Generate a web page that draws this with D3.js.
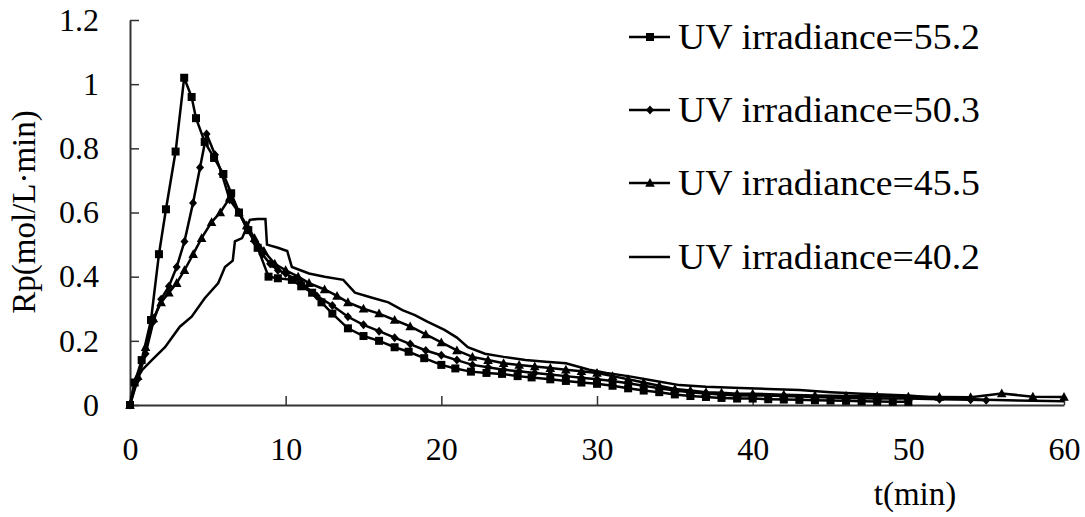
<!DOCTYPE html>
<html>
<head>
<meta charset="utf-8">
<script src="https://cdn.jsdelivr.net/npm/d3@7"></script>
<style>
  html, body { margin: 0; padding: 0; background: #fff; }
  svg { display: block; }
  text { font-family: "Liberation Serif", "Times New Roman", serif; fill: #000; }
</style>
</head>
<body>
<svg id="chart" width="1085" height="517"></svg>
<script>
// ---- Data ----
const seriesNames = ["UV irradiance=55.2", "UV irradiance=50.3", "UV irradiance=45.5", "UV irradiance=40.2"];
const seriesMarkers = ["square", "diamond", "triangle", "none"];

const t552 = [0, 0.3, 0.75, 1.35, 1.86, 2.31, 2.93, 3.48, 3.96, 4.24, 4.8, 5.4, 6.0, 6.5, 7.0, 7.6, 8.2, 8.9, 9.5, 10.4, 11.0, 11.7, 12.3, 13.0, 14.0, 15.0, 16.0, 17.0, 17.9, 18.9, 20.0, 20.9, 21.9, 22.9, 23.9, 24.9, 25.8, 27, 28, 29, 30, 31, 32, 33, 34, 35, 36, 37, 38, 39, 40, 41, 42, 43, 44, 45, 46, 47, 48, 49, 50];
const v552 = [0, 0.07, 0.14, 0.265, 0.47, 0.61, 0.79, 1.02, 0.96, 0.894, 0.82, 0.77, 0.72, 0.66, 0.6, 0.545, 0.49, 0.4, 0.395, 0.39, 0.37, 0.35, 0.32, 0.285, 0.239, 0.215, 0.2, 0.18, 0.166, 0.146, 0.125, 0.114, 0.104, 0.1, 0.097, 0.09, 0.086, 0.08, 0.075, 0.07, 0.066, 0.06, 0.052, 0.045, 0.04, 0.033, 0.028, 0.025, 0.022, 0.02, 0.02, 0.018, 0.017, 0.016, 0.015, 0.014, 0.013, 0.012, 0.011, 0.01, 0.01];

const t503 = [0, 0.5, 1.0, 1.5, 2.0, 2.5, 3.0, 3.5, 4.05, 4.5, 4.92, 5.46, 5.9, 6.4, 7.0, 7.5, 8.0, 8.5, 9.0, 9.5, 10, 11, 12, 13, 14, 15, 16, 17, 18, 19, 20, 21, 22, 23, 24, 25, 26, 27, 28, 29, 30, 31, 32, 33, 34, 35, 36, 37, 38, 39, 40, 42, 44, 46, 48, 50, 52, 54, 55];
const v503 = [0, 0.08, 0.16, 0.26, 0.33, 0.37, 0.43, 0.51, 0.63, 0.74, 0.845, 0.78, 0.72, 0.64, 0.6, 0.55, 0.51, 0.47, 0.44, 0.42, 0.41, 0.38, 0.34, 0.31, 0.275, 0.25, 0.23, 0.21, 0.19, 0.17, 0.155, 0.14, 0.125, 0.118, 0.11, 0.105, 0.1, 0.095, 0.09, 0.085, 0.08, 0.075, 0.068, 0.06, 0.052, 0.045, 0.04, 0.036, 0.033, 0.03, 0.03, 0.028, 0.025, 0.022, 0.02, 0.02, 0.018, 0.016, 0.015];

const t455 = [0, 0.5, 1.0, 1.5, 2.0, 2.5, 3.0, 3.5, 4.06, 4.6, 5.24, 5.8, 6.4, 7.0, 7.5, 8.0, 8.6, 9.3, 10, 10.8, 11.5, 12.5, 13.3, 14, 15, 16, 17, 18, 19, 20, 21, 22, 23, 24, 25, 26, 27, 28, 29, 30, 31, 32, 33, 34, 35, 36, 37, 38, 39, 40, 42, 44, 46, 48, 50, 52, 54, 56, 58, 60];
const v455 = [0, 0.09, 0.18, 0.27, 0.32, 0.35, 0.38, 0.42, 0.47, 0.52, 0.57, 0.6, 0.645, 0.6, 0.56, 0.52, 0.48, 0.44, 0.42, 0.4, 0.38, 0.36, 0.34, 0.32, 0.3, 0.285, 0.265, 0.245, 0.22, 0.195, 0.17, 0.15, 0.14, 0.13, 0.125, 0.12, 0.115, 0.11, 0.105, 0.1, 0.09, 0.08, 0.07, 0.06, 0.05, 0.045, 0.04, 0.038, 0.035, 0.035, 0.032, 0.03, 0.028, 0.027, 0.026, 0.025, 0.024, 0.036, 0.026, 0.025];

const t402 = [0, 0.3, 0.8, 1.4, 2.25, 3.2, 3.96, 4.8, 5.67, 6.1, 6.6, 6.74, 7.2, 7.7, 8.2, 8.7, 8.8, 9.5, 10.1, 10.4, 11.5, 12.5, 13.7, 14.45, 15.5, 16.6, 17.5, 18.3, 19.1, 20.2, 21.0, 21.7, 22.8, 24, 25.4, 26.7, 28, 29.5, 30.6, 32, 33.4, 35.3, 37, 39.2, 41, 43, 45, 47, 50, 52, 55, 58, 60];
const v402 = [0, 0.07, 0.11, 0.14, 0.18, 0.244, 0.275, 0.333, 0.38, 0.43, 0.45, 0.51, 0.52, 0.577, 0.58, 0.58, 0.5, 0.49, 0.48, 0.43, 0.41, 0.4, 0.39, 0.35, 0.335, 0.32, 0.296, 0.28, 0.26, 0.234, 0.21, 0.18, 0.16, 0.15, 0.14, 0.135, 0.13, 0.11, 0.1, 0.09, 0.078, 0.062, 0.057, 0.053, 0.05, 0.047, 0.04, 0.035, 0.03, 0.022, 0.016, 0.013, 0.012];

const xTicks = [0, 10, 20, 30, 40, 50, 60];
const yTicks = [0, 0.2, 0.4, 0.6, 0.8, 1, 1.2];
const xTitle = "t(min)";
const yTitle = "Rp(mol/L\u00B7min)";

// ---- Build ----
const seriesT = [t552, t503, t455, t402];
const seriesV = [v552, v503, v455, v402];
const series = seriesNames.map((name, i) => ({
  name, marker: seriesMarkers[i],
  pts: seriesT[i].map((t, j) => ({ t, v: seriesV[i][j] }))
}));

const svg = d3.select("#chart");
const x = d3.scaleLinear().domain([0, 60]).range([130, 1064]);
const y = d3.scaleLinear().domain([0, 1.2]).range([405, 20]);

// axes
const xAxis = d3.axisBottom(x).tickValues(xTicks).tickSizeInner(-9).tickSizeOuter(0).tickPadding(32)
  .tickFormat(d3.format("d"));
const yAxis = d3.axisLeft(y).tickValues(yTicks).tickSizeInner(-9).tickSizeOuter(0).tickPadding(31)
  .tickFormat(d => d === 0 ? "0" : (d === 1 ? "1" : d3.format(".1f")(d)));

const gx = svg.append("g").attr("transform", `translate(0,${y(0)})`).call(xAxis);
const gy = svg.append("g").attr("transform", `translate(${x(0)},0)`).call(yAxis);
[gx, gy].forEach(g => {
  g.select(".domain").attr("stroke", "#333").attr("stroke-width", 2);
  g.selectAll(".tick line").attr("stroke", "#333").attr("stroke-width", 1.5);
  g.selectAll(".tick text").attr("font-family", "Liberation Serif").attr("font-size", 32).attr("fill", "#000");
});

// titles
svg.append("text").attr("x", 915).attr("y", 505).attr("text-anchor", "middle")
  .attr("font-size", 33).text(xTitle);
svg.append("text").attr("transform", "translate(35,212) rotate(-90)").attr("text-anchor", "middle")
  .attr("font-size", 33).text(yTitle);

// marker drawing
function drawMarker(sel, type) {
  if (type === "square") {
    sel.append("rect").attr("x", -4).attr("y", -4).attr("width", 8).attr("height", 8).attr("fill", "#000");
  } else if (type === "diamond") {
    sel.append("path").attr("d", "M0,-4.5L4,0L0,4.5L-4,0Z").attr("fill", "#000");
  } else if (type === "triangle") {
    sel.append("path").attr("d", "M0,-5L4.8,3.8L-4.8,3.8Z").attr("fill", "#000");
  }
}

const line = d3.line().x(d => x(d.t)).y(d => y(d.v));
const plot = svg.append("g");
series.slice().reverse().forEach(s => {
  plot.append("path").datum(s.pts).attr("d", line)
    .attr("fill", "none").attr("stroke", "#000").attr("stroke-width", 2.5).attr("stroke-linejoin", "miter");
  if (s.marker !== "none") {
    plot.append("g").selectAll("g").data(s.pts).join("g")
      .attr("transform", d => `translate(${x(d.t)},${y(d.v)})`)
      .each(function () { drawMarker(d3.select(this), s.marker); });
  }
});

// legend
const legendY = [37, 110, 183, 257];
series.forEach((s, i) => {
  const g = svg.append("g").attr("transform", `translate(0,${legendY[i]})`);
  g.append("line").attr("x1", 629).attr("x2", 670).attr("y1", 0).attr("y2", 0)
    .attr("stroke", "#000").attr("stroke-width", 2.5);
  const m = g.append("g").attr("transform", "translate(650,0)");
  drawMarker(m, s.marker);
  g.append("text").attr("x", 678).attr("y", 12).attr("font-size", 35)
    .attr("textLength", 302).attr("lengthAdjust", "spacingAndGlyphs").text(s.name);
});
</script>
</body>
</html>
